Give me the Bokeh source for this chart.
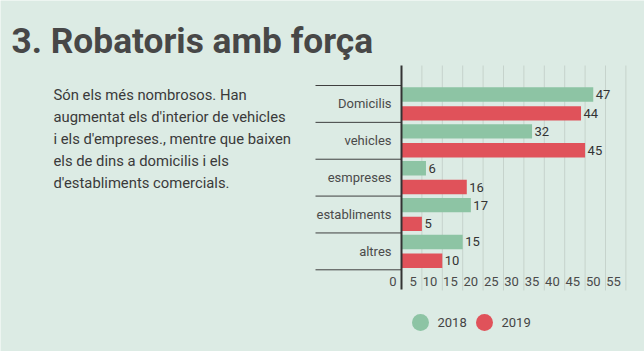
from bokeh.plotting import figure
from bokeh.models import Range1d, ColumnDataSource
from bokeh.core.properties import value
from bokeh.embed import file_html
from bokeh.resources import INLINE

# ---- data ----
categories = ["Domicilis", "vehicles", "esmpreses", "establiments", "altres"]
series = ["2018", "2019"]
values_2018 = [47, 32, 6, 17, 15]
values_2019 = [44, 45, 16, 5, 10]
x_ticks = [0, 5, 10, 15, 20, 25, 30, 35, 40, 45, 50, 55]
title_text = "3. Robatoris amb força"
paragraph = [
    "Són els més nombrosos. Han",
    "augmentat els d'interior de vehicles",
    "i els d'empreses., mentre que baixen",
    "els de dins a domicilis i els",
    "d'establiments comercials.",
]

# ---- style ----
W, H = 644, 351
BG = "#dcebe4"
GREEN = "#8dc4a4"
RED = "#e0525a"
FONT = value("Roboto")

# layout scale: pixel <-> data
X_PX0, X_SCALE = 401.0, 4.08      # px of x=0, px per unit
Y_PX0, Y_SCALE = 85.0, 36.86      # px of first category top, px per category


def dx(px):
    return (px - X_PX0) / X_SCALE


def dy(py):
    return (py - Y_PX0) / Y_SCALE


p = figure(width=W, height=H, output_backend="svg", toolbar_location=None,
           x_range=Range1d(dx(0), dx(W)), y_range=Range1d(dy(H), dy(0)),
           min_border=0, min_border_left=0, min_border_right=0,
           min_border_top=0, min_border_bottom=0)
p.axis.visible = False
p.grid.visible = False
p.outline_line_color = None
p.background_fill_color = BG
p.border_fill_color = BG

n = len(categories)
idx = list(range(n))

# grid lines
grid_x = [t for t in x_ticks if t > 0]
p.segment(x0=grid_x, x1=grid_x, y0=[dy(65)] * len(grid_x), y1=[dy(290)] * len(grid_x),
          line_color="#c6d3cc", line_width=1)

# category separators
bounds = list(range(n + 1))
p.segment(x0=[dx(315)] * len(bounds), x1=[0] * len(bounds), y0=bounds, y1=bounds,
          line_color="#3f3f3f", line_width=1)

# bars
src = ColumnDataSource(dict(
    cat=categories,
    y18=[i + 0.245 for i in idx], y19=[i + 0.755 for i in idx],
    v18=values_2018, v19=values_2019,
    t18=[str(v) for v in values_2018], t19=[str(v) for v in values_2019],
))
p.hbar(y="y18", left=0, right="v18", height=0.39, source=src, fill_color=GREEN, line_color=None)
p.hbar(y="y19", left=0, right="v19", height=0.39, source=src, fill_color=RED, line_color=None)

# value labels
p.text(x="v18", y="y18", text="t18", source=src, x_offset=2.5, text_font=FONT,
       text_font_size="13px", text_color="#333333", text_baseline="middle", text_align="left")
p.text(x="v19", y="y19", text="t19", source=src, x_offset=2.5, text_font=FONT,
       text_font_size="13px", text_color="#333333", text_baseline="middle", text_align="left")

# category labels
p.text(x=[0] * n, y=[i + 0.5 for i in idx], text=categories, x_offset=-10,
       text_font=FONT, text_font_size="13px", text_color="#4a4a4a",
       text_baseline="middle", text_align="right")

# axis line
p.segment(x0=[0], x1=[0], y0=[dy(65)], y1=[dy(289)], line_color="#333333", line_width=2)

# tick labels
p.text(x=x_ticks, y=[dy(281)] * len(x_ticks), text=[str(t) for t in x_ticks], x_offset=-5,
       text_font=FONT, text_font_size="13px", text_color="#4a4a4a",
       text_baseline="middle", text_align="right")

# title
p.text(x=[dx(11)], y=[dy(40.8)], text=[title_text], text_font=FONT, text_font_size="35.3px",
       text_font_style="bold", text_color="#474747", text_baseline="middle", text_align="left")

# paragraph
p.text(x=[dx(53)] * len(paragraph), y=[dy(94.2 + 22.1 * i) for i in range(len(paragraph))],
       text=paragraph, text_font=FONT, text_font_size="14.8px", text_color="#3a3a3a",
       text_baseline="middle", text_align="left")

# legend
leg_px = [420, 484]
p.scatter(x=[dx(v) for v in leg_px], y=[dy(322)] * 2, size=17, marker="circle",
          fill_color=[GREEN, RED], line_color=None)
p.text(x=[dx(v + 17) for v in leg_px], y=[dy(322)] * 2, text=series, text_font=FONT,
       text_font_size="13px", text_color="#444444", text_baseline="middle", text_align="left")

open("out.html", "w").write(file_html(p, INLINE))
